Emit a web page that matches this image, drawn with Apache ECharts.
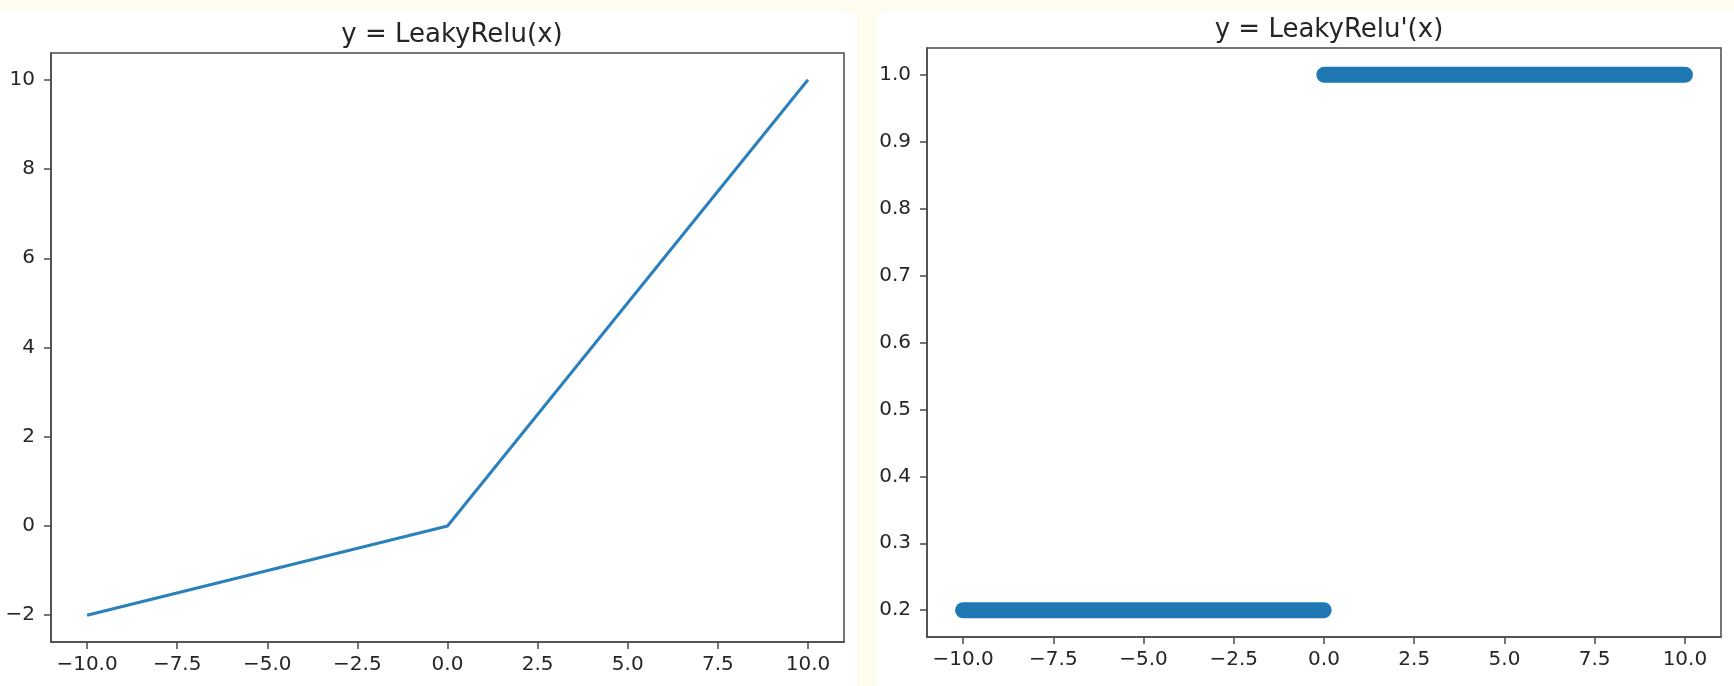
<!DOCTYPE html>
<html>
<head>
<meta charset="utf-8">
<title>LeakyRelu</title>
<script src="https://cdn.jsdelivr.net/npm/echarts@6/dist/echarts.min.js"></script>
<style>
  html, body { margin: 0; padding: 0; background: #fdfcef; }
  #main { width: 1734px; height: 686px; }
</style>
</head>
<body>
<div id="main"></div>
<script>
// 左图：LeakyRelu 折线端点
const reluX = [-10, 0, 10]
const reluY = [-2, 0, 10]

// 右图：导数（密集散点，画成两段粗线）
const derivLowX = [-10, -0.01]
const derivLowY = [0.2, 0.2]
const derivHighX = [0.01, 10]
const derivHighY = [1.0, 1.0]

// 刻度
const xTicks = [-10, -7.5, -5, -2.5, 0, 2.5, 5, 7.5, 10]
const leftYTicks = [-2, 0, 2, 4, 6, 8, 10]
const rightYTicks = [0.2, 0.3, 0.4, 0.5, 0.6, 0.7, 0.8, 0.9, 1.0]

const titles = ['y = LeakyRelu(x)', "y = LeakyRelu'(x)"]

const FONT = 'DejaVu Sans'
const TEXT = '#262626'
const SPINE = '#4a4a4a'
const BLUE = '#1f77b4'

const minus = (s) => s.replace('-', '\u2212')
const fmt1 = (v) => minus(Number(v).toFixed(1))
const fmt0 = (v) => minus(String(Math.round(v)))

const pairs = (xs, ys) => xs.map((x, i) => [x, ys[i]])

const chart = echarts.init(document.getElementById('main'))

const tickStyle = (ticks) => ({
  show: true,
  customValues: ticks,
  length: 7,
  lineStyle: { color: SPINE, width: 1.5 }
})

const makeXAxis = (gridIndex) => ({
  type: 'value',
  gridIndex,
  min: -11,
  max: 11,
  splitLine: { show: false },
  axisLine: { show: true, onZero: false, lineStyle: { color: SPINE, width: 1.5 } },
  axisTick: tickStyle(xTicks),
  axisLabel: {
    customValues: xTicks,
    formatter: fmt1,
    margin: 13,
    color: TEXT,
    fontFamily: FONT,
    fontSize: 20
  }
})

const makeYAxis = (gridIndex, min, max, ticks, formatter) => ({
  type: 'value',
  gridIndex,
  min,
  max,
  splitLine: { show: false },
  axisLine: { show: true, onZero: false, lineStyle: { color: SPINE, width: 1.5 } },
  axisTick: tickStyle(ticks),
  axisLabel: {
    customValues: ticks,
    formatter,
    margin: 16,
    color: TEXT,
    fontFamily: FONT,
    fontSize: 20
  }
})

const option = {
  animation: false,
  backgroundColor: '#fdfcef',
  graphic: [
    { type: 'rect', z: -10, shape: { x: 0, y: 12, width: 857, height: 674 }, style: { fill: '#ffffff' } },
    { type: 'rect', z: -10, shape: { x: 877, y: 12, width: 857, height: 674 }, style: { fill: '#ffffff' } }
  ],
  title: [
    {
      text: titles[0],
      left: 447,
      top: 17,
      textAlign: 'center',
      textStyle: { fontFamily: FONT, fontSize: 26, fontWeight: 'normal', color: TEXT }
    },
    {
      text: titles[1],
      left: 1324,
      top: 12,
      textAlign: 'center',
      textStyle: { fontFamily: FONT, fontSize: 26, fontWeight: 'normal', color: TEXT }
    }
  ],
  grid: [
    { left: 51, top: 53, width: 793, height: 589, show: true, borderColor: SPINE, borderWidth: 1.5, backgroundColor: 'transparent' },
    { left: 927, top: 48, width: 794, height: 589, show: true, borderColor: SPINE, borderWidth: 1.5, backgroundColor: 'transparent' }
  ],
  xAxis: [makeXAxis(0), makeXAxis(1)],
  yAxis: [
    makeYAxis(0, -2.6, 10.6, leftYTicks, fmt0),
    makeYAxis(1, 0.16, 1.04, rightYTicks, fmt1)
  ],
  series: [
    {
      name: 'LeakyRelu',
      type: 'line',
      xAxisIndex: 0,
      yAxisIndex: 0,
      data: pairs(reluX, reluY),
      showSymbol: false,
      lineStyle: { color: '#2a7fbd', width: 3 }
    },
    {
      name: 'deriv-low',
      type: 'line',
      xAxisIndex: 1,
      yAxisIndex: 1,
      data: pairs(derivLowX, derivLowY),
      showSymbol: false,
      lineStyle: { color: BLUE, width: 16, cap: 'round' }
    },
    {
      name: 'deriv-high',
      type: 'line',
      xAxisIndex: 1,
      yAxisIndex: 1,
      data: pairs(derivHighX, derivHighY),
      showSymbol: false,
      lineStyle: { color: BLUE, width: 16, cap: 'round' }
    }
  ]
}

chart.setOption(option)
</script>
</body>
</html>
